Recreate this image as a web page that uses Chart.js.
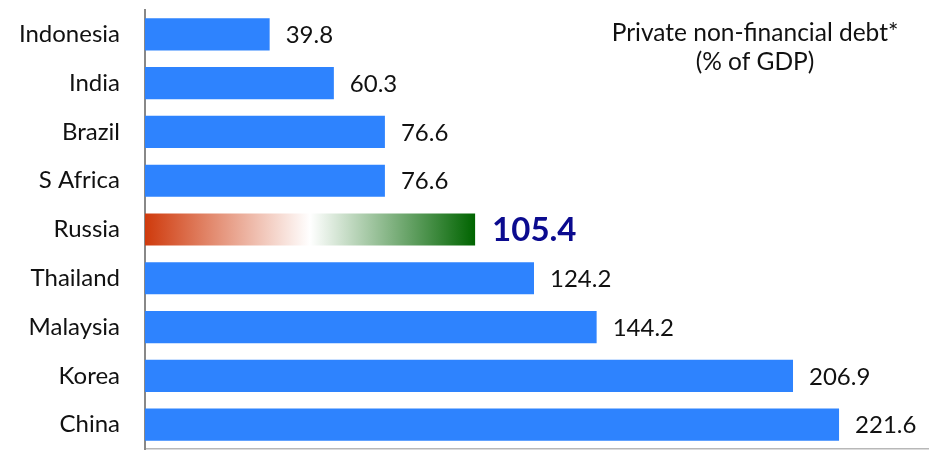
<!DOCTYPE html>
<html>
<head>
<meta charset="utf-8">
<script src="https://cdn.jsdelivr.net/npm/chart.js@4/dist/chart.umd.min.js"></script>
<style>
  html, body { margin: 0; padding: 0; background: #ffffff; }
  #wrap { width: 938px; height: 451px; }
</style>
</head>
<body>
<div id="wrap"><canvas id="c" width="938" height="451"></canvas></div>
<script>
const countries = ["Indonesia", "India", "Brazil", "S Africa", "Russia", "Thailand", "Malaysia", "Korea", "China"];
const debtPct = [39.8, 60.3, 76.6, 76.6, 105.4, 124.2, 144.2, 206.9, 221.6];
const highlight = "Russia";
const titleLines = ["Private non-financial debt*", "(% of GDP)"];

const FONT = "Lato, 'Open Sans', sans-serif";
const BLUE = "#2e83fe";

function barFill(ctx) {
  const chart = ctx.chart;
  if (countries[ctx.dataIndex] !== highlight) return BLUE;
  const area = chart.chartArea;
  if (!area) return BLUE;
  const xs = chart.scales.x;
  const x0 = xs.getPixelForValue(0);
  const x1 = xs.getPixelForValue(debtPct[ctx.dataIndex]);
  const g = chart.ctx.createLinearGradient(x0, 0, x1, 0);
  g.addColorStop(0, "#cf3a0c");
  g.addColorStop(0.5, "#ffffff");
  g.addColorStop(1, "#006400");
  return g;
}

const valueLabels = {
  id: "valueLabels",
  afterDatasetsDraw(chart) {
    const c = chart.ctx;
    const meta = chart.getDatasetMeta(0);
    c.save();
    c.textBaseline = "middle";
    c.textAlign = "left";
    meta.data.forEach((bar, i) => {
      const hl = countries[i] === highlight;
      c.font = hl ? "bold 33px " + FONT : "24px " + FONT;
      c.fillStyle = hl ? "#0b0b8f" : "#111111";
      c.fillText(debtPct[i].toFixed(1), bar.x + (hl ? 17 : 16), bar.y + 1);
    });
    c.restore();
  }
};

const cornerTitle = {
  id: "cornerTitle",
  afterDraw(chart) {
    const c = chart.ctx;
    c.save();
    c.font = "24.5px " + FONT;
    c.fillStyle = "#111111";
    c.textAlign = "center";
    c.textBaseline = "middle";
    titleLines.forEach((t, i) => c.fillText(t, 755, 33 + i * 29));
    c.restore();
  }
};

new Chart(document.getElementById("c"), {
  type: "bar",
  data: {
    labels: countries,
    datasets: [{
      data: debtPct,
      backgroundColor: barFill,
      borderWidth: 0,
      barPercentage: 0.66,
      categoryPercentage: 1.0
    }]
  },
  options: {
    indexAxis: "y",
    responsive: false,
    animation: false,
    layout: { padding: { top: 10, right: 10, bottom: 2, left: 0 } },
    plugins: { legend: { display: false }, tooltip: { enabled: false }, title: { display: false } },
    scales: {
      x: {
        min: 0,
        max: 250,
        ticks: { display: false },
        grid: { display: false, drawTicks: false },
        border: { display: true, color: "#b8b8b8", width: 1.5 },
        afterFit(scale) {
          scale.height = 0;
          scale.paddingLeft = scale.paddingRight = 0;
        }
      },
      y: {
        ticks: { color: "#111111", font: { family: FONT, size: 24 }, padding: 25 },
        grid: { display: false, drawTicks: false },
        border: { display: true, color: "#888888", width: 2 },
        afterFit(scale) {
          scale.width = 145;
          scale.paddingTop = scale.paddingBottom = 0;
        }
      }
    }
  },
  plugins: [valueLabels, cornerTitle]
});
</script>
</body>
</html>
